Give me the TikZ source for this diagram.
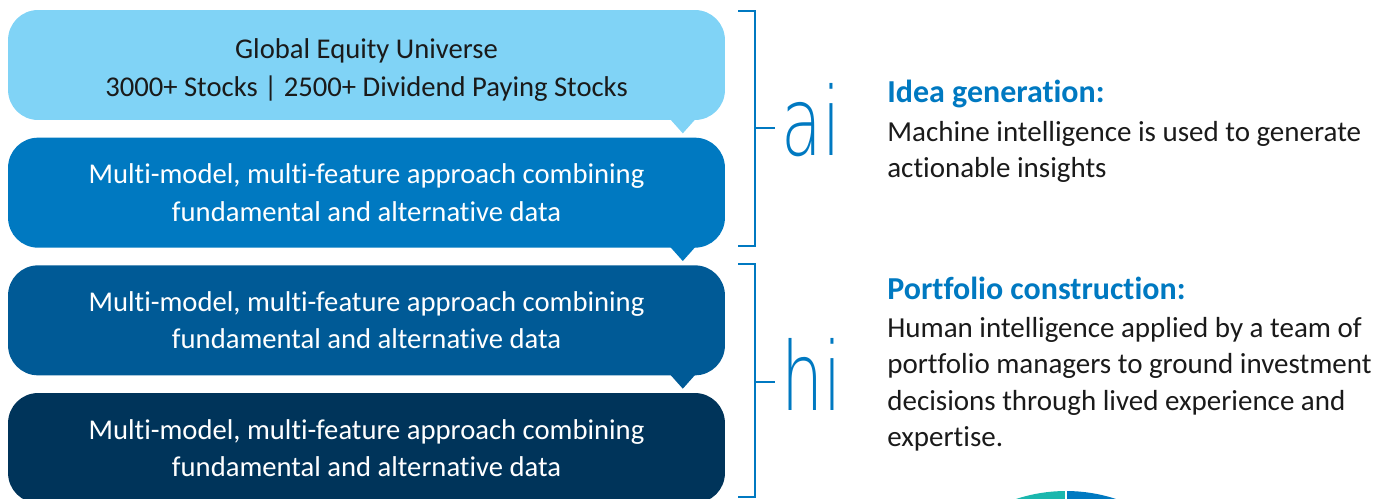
\documentclass[tikz,border=0pt]{standalone}
\usepackage{fontspec}
\setmainfont{Carlito}[Ligatures={NoCommon,NoContextual}]
\newfontfamily\thinfont{DejaVu Sans ExtraLight}[FakeStretch=0.7]
\usetikzlibrary{positioning}

\definecolor{skyblue}{HTML}{80D3F6}
\definecolor{midblue}{HTML}{0079C1}
\definecolor{deepblue}{HTML}{005A96}
\definecolor{navyblue}{HTML}{00345A}
\definecolor{tealpie}{HTML}{1BB7AE}
\definecolor{bodytext}{HTML}{1A1A1A}

\begin{document}
\begin{tikzpicture}[x=0.02cm,y=-0.02cm,node distance=0.34cm,
    box/.style={rounded corners=0.6cm,minimum width=14.34cm,minimum height=2.2cm,
      align=center,font=\fontsize{16.3}{21.3}\selectfont,text=white,inner sep=0pt},
    bracket/.style={draw=midblue,line width=1.15pt},
    tag/.style={text=midblue,font=\thinfont\fontsize{54}{54}\selectfont,inner sep=0pt,anchor=base west},
    heading/.style={text=midblue,font=\bfseries\fontsize{18.2}{21}\selectfont,inner sep=0pt,anchor=base west},
    body/.style={text=bodytext,font=\fontsize{16.5}{20.7}\selectfont,align=left,inner sep=0pt,anchor=north west}]
  \useasboundingbox (0,0) rectangle (1386,499);

  % stacked process boxes
  \node[box,fill=skyblue,text=bodytext] (universe) at (366.5,65)
    {\rule{0pt}{17pt}Global Equity Universe\\3000+ Stocks | 2500+ Dividend Paying Stocks};
  \node[box,fill=midblue] (model) [below=of universe]
    {Multi-model, multi-feature approach combining\\fundamental and alternative data};
  \node[box,fill=deepblue] (select) [below=of model]
    {Multi-model, multi-feature approach combining\\fundamental and alternative data};
  \node[box,fill=navyblue] (build) [below=of select]
    {Multi-model, multi-feature approach combining\\fundamental and alternative data};

  % pointers under each box
  \foreach \b/\c in {universe/skyblue,model/midblue,select/deepblue}
    \fill[\c] ([xshift=-0.6cm,yshift=0.02cm]\b.south east) -- ++(-0.5cm,0)
      -- ++(0.25cm,-0.28cm) -- cycle;

  % brackets
  \draw[bracket] (738,11) -- (755,11) -- (755,246) -- (738,246);
  \draw[bracket] (755,128) -- (775,128);
  \draw[bracket] (738,264) -- (755,264) -- (755,497) -- (738,497);
  \draw[bracket] (755,382) -- (775,382);
  \node[tag] (ai) at (781,156) {ai};
  \node[tag] (hi) at (781,411) {hi};

  % descriptions
  \node[heading] (idea) at (887,103) {Idea generation:};
  \node[body] (ideatxt) at (887,121)
    {Machine intelligence is used to generate\\actionable insights};
  \node[heading] (port) at (887,300) {Portfolio construction:};
  \node[body] (porttxt) at (887,317)
    {Human intelligence applied by a team of\\portfolio managers to ground investment\\decisions through lived experience and\\expertise.};

  % pie at the bottom edge
  \coordinate (pc) at (1066,651);
  \fill[tealpie] (pc) -- ([shift={(90:3.2cm)}]pc) arc[start angle=90,end angle=180,radius=3.2cm] -- cycle;
  \fill[midblue] (pc) -- ([shift={(90:3.2cm)}]pc) arc[start angle=90,end angle=0,radius=3.2cm] -- cycle;
  \draw[white,line width=1.2pt] (pc) -- ([shift={(90:3.3cm)}]pc);
\end{tikzpicture}
\end{document}
